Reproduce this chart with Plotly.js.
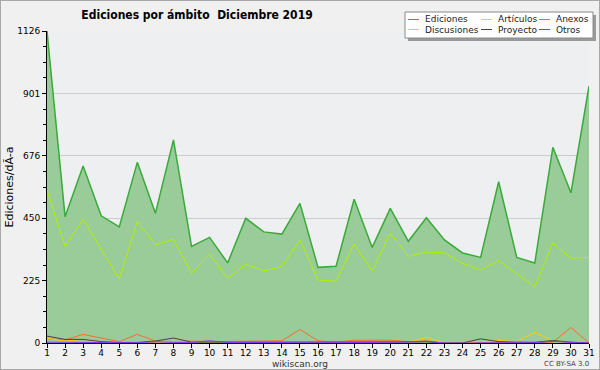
<!DOCTYPE html>
<html>
<head>
<meta charset="utf-8">
<script src="https://cdn.plot.ly/plotly-3.0.1.min.js"></script>
<style>
html,body{margin:0;padding:0;background:#f0f0f0;}
#wrap{position:relative;width:600px;height:370px;}
#chart{width:600px;height:370px;}
#wrap:after{content:"";position:absolute;left:0;top:0;right:0;bottom:0;border:1px solid #a8a8a8;pointer-events:none;}
</style>
</head>
<body>
<div id="wrap"><div id="chart"></div></div>
<script>
var days = [1,2,3,4,5,6,7,8,9,10,11,12,13,14,15,16,17,18,19,20,21,22,23,24,25,26,27,28,29,30,31];
var ediciones   = [1126,456,639,459,419,652,468,733,349,381,289,450,401,393,504,273,277,519,345,486,367,452,372,325,309,582,309,289,706,542,927];
var articulos   = [552,349,446,339,231,439,354,374,251,321,233,285,260,277,372,227,223,358,260,396,313,328,325,288,263,298,251,203,361,306,309];
var anexos      = [16,11,31,17,5,31,7,5,7,5,5,7,7,8,49,8,3,10,10,10,5,8,0,0,3,3,3,3,3,56,0];
var discusiones = [17,7,13,5,2,3,3,3,4,3,3,4,5,5,5,3,3,4,3,3,2,20,0,0,5,9,5,39,8,2,0];
var proyecto    = [25,13,13,5,2,2,7,18,3,3,2,2,2,2,2,2,2,2,2,2,2,4,0,0,15,5,3,2,9,3,0];
var otros       = [3,2,2,1,1,1,4,2,2,8,2,2,1,1,1,1,1,1,1,1,3,6,0,0,1,1,1,1,6,2,0];
var seriesNames  = ['Ediciones','Artículos','Anexos','Discusiones','Proyecto','Otros'];
var seriesColors = ['#3aaa3a','#b4f000','#ff6a2a','#ffcc00','#444444','#8833ff'];
var yTickVals = [0,225.2,450.4,675.6,900.8,1126];
var yTickText = ["0","225","450","676","901","1126"];

var F = "DejaVu Sans";
var seriesValues = [ediciones, articulos, anexos, discusiones, proyecto, otros];
var data = seriesValues.map(function(v, i) {
  var t = {x: days, y: v, name: seriesNames[i], type: 'scatter', mode: 'lines',
           line: {color: seriesColors[i], width: i === 0 ? 1.5 : 1}, showlegend: false};
  if (i === 0) { t.fill = 'tozeroy'; t.fillcolor = 'rgb(153,204,153)'; }
  return t;
});

// plot-area pixel helpers (plot: x 47..589, y 31..343)
function px(x) { return (x - 47) / 542; }
function py(y) { return (343 - y) / 312; }

var shapes = [
  {type: 'rect', xref: 'paper', yref: 'paper', x0: px(408), x1: px(596), y0: py(15), y1: py(41),
   fillcolor: '#9a9a9a', line: {width: 0}, layer: 'above'},
  {type: 'rect', xref: 'paper', yref: 'paper', x0: px(405), x1: px(593), y0: py(12), y1: py(38),
   fillcolor: '#ffffff', line: {width: 1, color: '#8a8a8a'}, layer: 'above'}
];
var annotations = [
  {text: 'wikiscan.org', xref: 'paper', yref: 'paper', x: px(300), y: py(363.5),
   xanchor: 'center', yanchor: 'middle', showarrow: false, font: {family: F, size: 9, color: '#333'}},
  {text: 'CC BY-SA 3.0', xref: 'paper', yref: 'paper', x: px(591), y: py(363.5),
   xanchor: 'right', yanchor: 'middle', showarrow: false, font: {family: F, size: 7, color: '#444'}}
];
var colX = [408, 481, 539];
var rowY = [19.5, 29.5];
seriesNames.forEach(function(n, i) {
  var cx = colX[i % 3], cy = rowY[Math.floor(i / 3)];
  shapes.push({type: 'line', xref: 'paper', yref: 'paper', x0: px(cx), x1: px(cx + 11), y0: py(cy), y1: py(cy),
               line: {color: seriesColors[i], width: 1}, layer: 'above'});
  annotations.push({text: n, xref: 'paper', yref: 'paper', x: px(cx + 15), y: py(cy), xanchor: 'left', yanchor: 'middle',
                    showarrow: false, font: {family: F, size: 9, color: '#222'}});
});

var layout = {
  width: 600, height: 370,
  margin: {l: 47, r: 11, t: 31, b: 27, pad: 0},
  paper_bgcolor: '#f0f0f0',
  plot_bgcolor: '#eeeff1',
  font: {family: F, size: 9, color: '#000'},
  showlegend: false,
  title: {text: '<b>Ediciones por ámbito  Diciembre 2019</b>', font: {family: 'DejaVu Sans Condensed', size: 12, color: '#000'},
          xref: 'container', x: 197/600, xanchor: 'center', yref: 'container', y: 1 - 15/370, yanchor: 'middle'},
  xaxis: {range: [1, 31], tickmode: 'array', tickvals: days, ticks: 'outside', ticklen: 4, tickcolor: '#000',
          ticklabelstandoff: -3,
          showline: true, linecolor: '#000', linewidth: 1, showgrid: false, zeroline: false,
          tickfont: {family: F, size: 9, color: '#000'}, fixedrange: true},
  yaxis: {range: [0, 1126], tickmode: 'array', tickvals: yTickVals, ticktext: yTickText,
          ticks: 'outside', ticklen: 4, tickcolor: '#000', showline: true, linecolor: '#000', linewidth: 1,
          showgrid: true, gridcolor: '#cccccc', gridwidth: 1, zeroline: false,
          minor: {tick0: 0, dtick: 1126/20, ticks: 'outside', ticklen: 3, tickcolor: '#000', showgrid: false},
          tickfont: {family: F, size: 9, color: '#000'},
          title: {text: 'Ediciones/dÃ-a', font: {family: F, size: 11, color: '#000'}, standoff: 1}, fixedrange: true},
  shapes: shapes,
  annotations: annotations
};
Plotly.newPlot('chart', data, layout, {displayModeBar: false, staticPlot: true});
</script>
</body>
</html>
